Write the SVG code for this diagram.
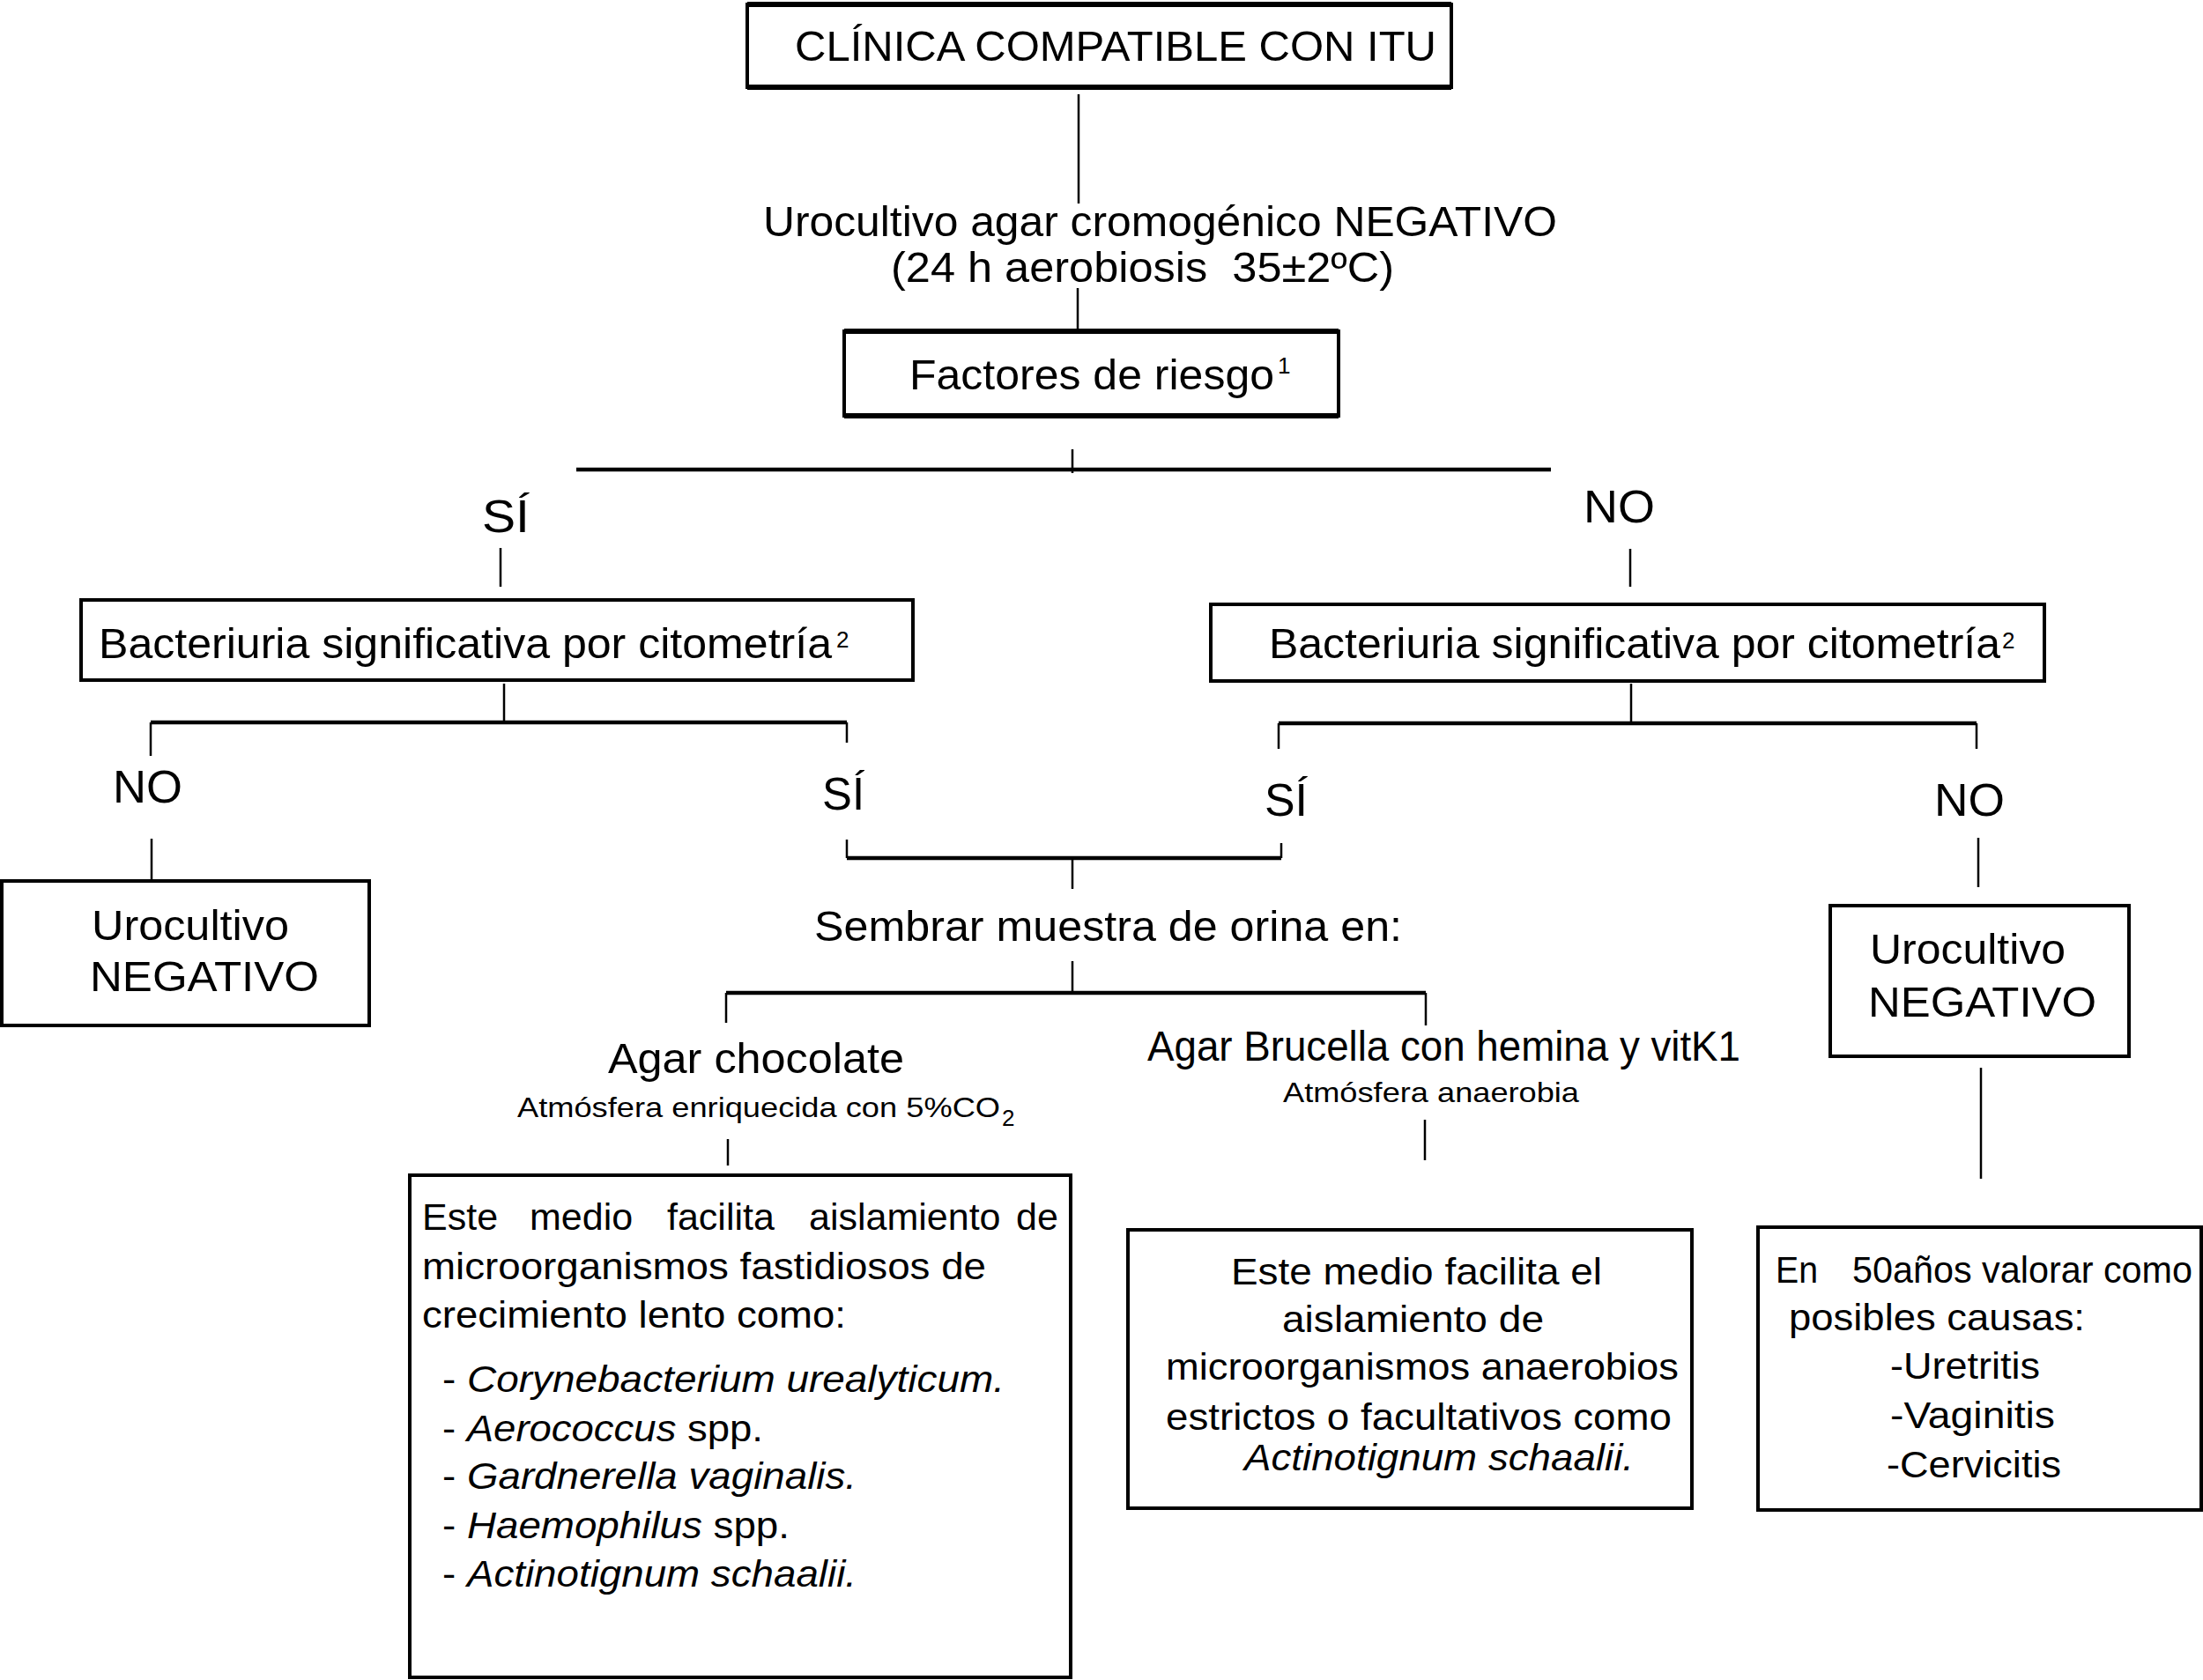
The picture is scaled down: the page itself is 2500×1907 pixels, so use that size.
<svg xmlns="http://www.w3.org/2000/svg" width="2500" height="1907" viewBox="0 0 2500 1907">
<style>
text{font-family:"Liberation Sans",Arial,sans-serif;fill:#000}
.m{font-size:48px}
.yn{font-size:52px}
.b{font-size:43px}
.s{font-size:32px}
.sup{font-size:26px}
.it{font-style:italic}
.box{fill:#fff;stroke:#000;stroke-width:4}
.edge{stroke:#000;stroke-width:6;fill:none}
.c{stroke:#000;stroke-width:2.5;fill:none}
.bar{stroke:#000;stroke-width:4.5;fill:none}
</style>
<rect width="2500" height="1907" fill="#fff"/>
<g id="connectors">
<path class="c" d="M1224,107V231"/>
<path class="c" d="M1223,327V376"/>
<path class="c" d="M1217,510V537"/>
<path class="bar" d="M654,533H1760"/>
<path class="c" d="M568,622V666"/>
<path class="c" d="M1850,623V666"/>
<path class="c" d="M572,776V820"/>
<path class="bar" d="M171,820H961"/>
<path class="c" d="M171,820V858M961,820V843"/>
<path class="c" d="M1851,776V821"/>
<path class="bar" d="M1451,821H2243"/>
<path class="c" d="M1451,821V850M2243,821V850"/>
<path class="c" d="M172,952V1000"/>
<path class="c" d="M961,953V974M1454,957V974"/>
<path class="bar" d="M961,974H1454"/>
<path class="c" d="M1217,974V1009"/>
<path class="c" d="M1217,1091V1127"/>
<path class="bar" d="M824,1127H1618"/>
<path class="c" d="M824,1127V1161M1618,1127V1164"/>
<path class="c" d="M826,1293V1323"/>
<path class="c" d="M1617,1271V1317"/>
<path class="c" d="M2245,951V1007"/>
<path class="c" d="M2248,1212V1338"/>
</g>
<g id="n-clinica">
<rect class="box" x="848" y="5" width="799" height="94"/>
<path class="edge" d="M848,5H1647M848,99H1647"/>
<text class="m" x="902" y="69" textLength="728" lengthAdjust="spacingAndGlyphs">CLÍNICA COMPATIBLE CON ITU</text>
</g>
<g id="n-urocultivo-agar">
<text class="m" x="866" y="268" textLength="901" lengthAdjust="spacingAndGlyphs">Urocultivo agar cromogénico NEGATIVO</text>
<text class="m" x="1011" y="320" textLength="571" lengthAdjust="spacingAndGlyphs" xml:space="preserve">(24 h aerobiosis  35±2ºC)</text>
</g>
<g id="n-factores">
<rect class="box" x="958" y="376" width="561" height="96"/>
<path class="edge" d="M958,376H1519M958,472H1519"/>
<text class="m" x="1032" y="442" textLength="414" lengthAdjust="spacingAndGlyphs">Factores de riesgo</text>
<text class="sup" x="1450" y="424">1</text>
</g>
<g id="l-si-1"><text class="yn" x="547" y="604" textLength="54" lengthAdjust="spacingAndGlyphs">SÍ</text></g>
<g id="l-no-1"><text class="yn" x="1797" y="593" textLength="81" lengthAdjust="spacingAndGlyphs">NO</text></g>
<g id="n-bact-left">
<rect class="box" x="92" y="681" width="944" height="91"/>
<text class="m" x="112" y="747" textLength="832" lengthAdjust="spacingAndGlyphs">Bacteriuria significativa por citometría</text>
<text class="sup" x="949" y="735">2</text>
</g>
<g id="n-bact-right">
<rect class="box" x="1374" y="686" width="946" height="87"/>
<text class="m" x="1440" y="747" textLength="830" lengthAdjust="spacingAndGlyphs">Bacteriuria significativa por citometría</text>
<text class="sup" x="2272" y="736">2</text>
</g>
<g id="l-no-2"><text class="yn" x="128" y="911" textLength="79" lengthAdjust="spacingAndGlyphs">NO</text></g>
<g id="l-si-2"><text class="yn" x="933" y="919" textLength="48" lengthAdjust="spacingAndGlyphs">SÍ</text></g>
<g id="l-si-3"><text class="yn" x="1435" y="926" textLength="49" lengthAdjust="spacingAndGlyphs">SÍ</text></g>
<g id="l-no-3"><text class="yn" x="2195" y="926" textLength="80" lengthAdjust="spacingAndGlyphs">NO</text></g>
<g id="n-neg-left">
<rect class="box" x="2" y="1000" width="417" height="164"/>
<text class="m" x="104" y="1067" textLength="224" lengthAdjust="spacingAndGlyphs">Urocultivo</text>
<text class="m" x="102" y="1125" textLength="260" lengthAdjust="spacingAndGlyphs">NEGATIVO</text>
</g>
<g id="n-sembrar">
<text class="m" x="924" y="1068" textLength="667" lengthAdjust="spacingAndGlyphs">Sembrar muestra de orina en:</text>
</g>
<g id="n-neg-right">
<rect class="box" x="2077" y="1028" width="339" height="171"/>
<text class="m" x="2122" y="1094" textLength="222" lengthAdjust="spacingAndGlyphs">Urocultivo</text>
<text class="m" x="2120" y="1154" textLength="259" lengthAdjust="spacingAndGlyphs">NEGATIVO</text>
</g>
<g id="n-chocolate-label">
<text class="m" x="690" y="1218" textLength="336" lengthAdjust="spacingAndGlyphs">Agar chocolate</text>
<text class="s" x="587" y="1268" textLength="548" lengthAdjust="spacingAndGlyphs">Atmósfera enriquecida con 5%CO</text>
<text class="sup" x="1137" y="1278" font-size="24">2</text>
</g>
<g id="n-brucella-label">
<text class="m" x="1302" y="1204" textLength="673" lengthAdjust="spacingAndGlyphs">Agar Brucella con hemina y vitK1</text>
<text class="s" x="1456" y="1251" textLength="336" lengthAdjust="spacingAndGlyphs">Atmósfera anaerobia</text>
</g>
<g id="n-chocolate-box">
<rect class="box" x="465" y="1334" width="750" height="570"/>
<text class="b" y="1396"><tspan x="479">Este</tspan><tspan x="601">medio</tspan><tspan x="757">facilita</tspan><tspan x="918">aislamiento</tspan><tspan x="1153">de</tspan></text>
<text class="b" x="479" y="1452" textLength="640" lengthAdjust="spacingAndGlyphs">microorganismos fastidiosos de</text>
<text class="b" x="479" y="1507" textLength="481" lengthAdjust="spacingAndGlyphs">crecimiento lento como:</text>
<text class="b" x="502" y="1580" textLength="638" lengthAdjust="spacingAndGlyphs">- <tspan class="it">Corynebacterium urealyticum.</tspan></text>
<text class="b" x="502" y="1636" textLength="364" lengthAdjust="spacingAndGlyphs">- <tspan class="it">Aerococcus</tspan> spp.</text>
<text class="b" x="502" y="1690" textLength="470" lengthAdjust="spacingAndGlyphs">- <tspan class="it">Gardnerella vaginalis.</tspan></text>
<text class="b" x="502" y="1746" textLength="394" lengthAdjust="spacingAndGlyphs">- <tspan class="it">Haemophilus</tspan> spp.</text>
<text class="b" x="502" y="1801" textLength="470" lengthAdjust="spacingAndGlyphs">- <tspan class="it">Actinotignum schaalii.</tspan></text>
</g>
<g id="n-brucella-box">
<rect class="box" x="1280" y="1396" width="640" height="316"/>
<text class="b" x="1397" y="1458" textLength="421" lengthAdjust="spacingAndGlyphs">Este medio facilita el</text>
<text class="b" x="1455" y="1512" textLength="297" lengthAdjust="spacingAndGlyphs">aislamiento de</text>
<text class="b" x="1323" y="1566" textLength="582" lengthAdjust="spacingAndGlyphs">microorganismos anaerobios</text>
<text class="b" x="1323" y="1623" textLength="574" lengthAdjust="spacingAndGlyphs">estrictos o facultativos como</text>
<text class="b it" x="1412" y="1669" textLength="442" lengthAdjust="spacingAndGlyphs">Actinotignum schaalii.</text>
</g>
<g id="n-causas-box">
<rect class="box" x="1995" y="1393" width="503" height="321"/>
<text class="b" x="2015" y="1456" textLength="48" lengthAdjust="spacingAndGlyphs">En</text>
<text class="b" x="2102" y="1456" textLength="386" lengthAdjust="spacingAndGlyphs">50años valorar como</text>
<text class="b" x="2030" y="1510" textLength="336" lengthAdjust="spacingAndGlyphs">posibles causas:</text>
<text class="b" x="2145" y="1565" textLength="170" lengthAdjust="spacingAndGlyphs">-Uretritis</text>
<text class="b" x="2145" y="1621" textLength="187" lengthAdjust="spacingAndGlyphs">-Vaginitis</text>
<text class="b" x="2141" y="1677" textLength="198" lengthAdjust="spacingAndGlyphs">-Cervicitis</text>
</g>
</svg>
